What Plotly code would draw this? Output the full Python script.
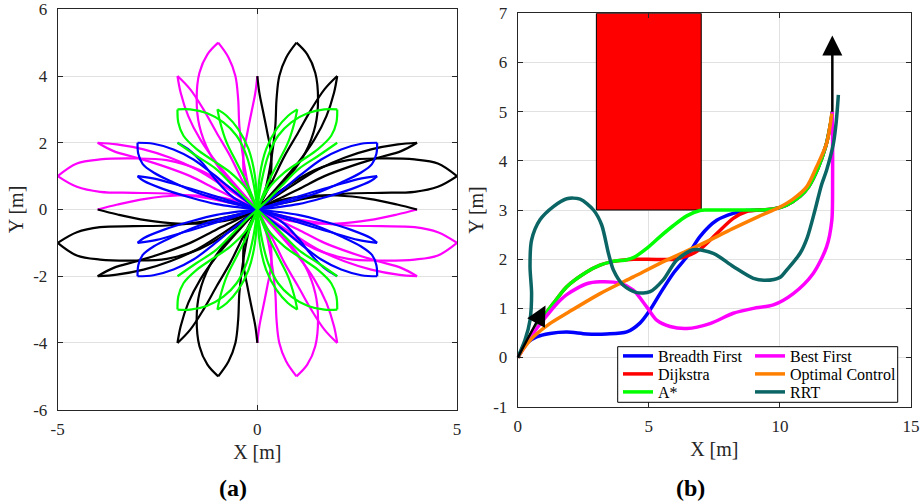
import plotly.graph_objects as go

# ---------------- Panel (a): petal curves, upper-left quadrant family ----------------
# magenta (upper-left) petals, each edge listed from the origin to its tip
M1_OUT = [(0, 0), (-0.4, 0.5), (-0.8, 1.0), (-1.2, 1.7), (-1.45, 2.5), (-1.52, 3.3), (-1.45, 4.1), (-1.25, 4.65), (-0.98, 5.0)]
M1_IN = [(0, 0), (-0.2, 0.6), (-0.35, 1.5), (-0.45, 2.5), (-0.48, 3.3), (-0.55, 4.0), (-0.72, 4.55), (-0.98, 5.0)]
M2_OUT = [(0, 0), (-0.52, 0.7), (-1.02, 1.4), (-1.43, 2.1), (-1.73, 2.8), (-1.92, 3.5), (-2.0, 4.0)]
M2_IN = [(0, 0), (-0.35, 0.8), (-0.68, 1.6), (-1.02, 2.3), (-1.35, 3.0), (-1.68, 3.6), (-2.0, 4.0)]
M3_UP = [(0, 0), (-0.35, 0.3), (-0.85, 0.7), (-1.52, 1.2), (-2.18, 1.55), (-2.85, 1.8), (-3.52, 1.95), (-4.0, 2.0)]
M3_LO = [(0, 0), (-0.5, 0.3), (-1.02, 0.6), (-1.68, 1.0), (-2.35, 1.3), (-3.02, 1.55), (-3.6, 1.75), (-4.0, 2.0)]
M4_UP = [(0, 0), (-0.6, 0.58), (-1.44, 1.18), (-2.27, 1.48), (-3.1, 1.53), (-3.94, 1.5), (-4.52, 1.38), (-5.0, 1.0)]
M4_LO = [(0, 0), (-0.6, 0.18), (-1.44, 0.38), (-2.27, 0.48), (-3.1, 0.5), (-3.94, 0.53), (-4.52, 0.68), (-5.0, 1.0)]
M5_HALF = [(0, 0), (-0.5, 0.25), (-1.2, 0.4), (-2.0, 0.42), (-2.8, 0.32), (-3.5, 0.15), (-4.0, 0.0)]
M6_HALF = [(0, 0), (-0.3, 0.8), (-0.35, 1.6), (-0.25, 2.3), (-0.15, 2.9), (-0.05, 3.5), (0.0, 4.0)]

# green (upper-left) petals
G1_TOP = [(0, 0), (-0.1, 0.81), (-0.27, 1.61), (-0.52, 2.21), (-0.85, 2.61), (-1.27, 2.89), (-1.68, 3.0), (-2.0, 3.0)]
G1_LO = [(0, 0), (-0.27, 0.61), (-0.68, 1.11), (-1.1, 1.46), (-1.52, 1.81), (-1.85, 2.21), (-1.98, 2.61), (-2.0, 3.0)]
G2_A = [(0, 0), (-0.27, 0.81), (-0.52, 1.41), (-0.77, 2.01), (-0.93, 2.61), (-1.0, 3.0)]
G2_B = [(0, 0), (-0.06, 1.01), (-0.22, 1.81), (-0.48, 2.41), (-0.77, 2.81), (-1.0, 3.0)]
G3_LINE = [(0, 0), (-0.28, 0.31), (-0.61, 0.71), (-1.03, 1.21), (-1.53, 1.61), (-2.0, 2.0)]

# blue (upper-left) petals
B1_TOP = [(0, 0), (-0.6, 0.56), (-1.1, 1.05), (-1.6, 1.5), (-2.1, 1.8), (-2.6, 1.97), (-3.0, 2.0)]
B1_LO = [(0, 0), (-0.85, 0.26), (-1.52, 0.51), (-2.1, 0.81), (-2.6, 1.11), (-2.87, 1.36), (-2.98, 1.66), (-3.0, 2.0)]
B2_TOP = [(0, 0), (-0.68, 0.26), (-1.35, 0.51), (-1.93, 0.71), (-2.52, 0.91), (-3.0, 1.0)]
B2_LO = [(0, 0), (-1.02, 0.16), (-1.68, 0.36), (-2.35, 0.61), (-2.85, 0.86), (-3.0, 1.0)]
B3_LINE = [(0, 0), (-0.6, 0.36), (-1.02, 0.86), (-1.35, 1.36), (-1.68, 1.76), (-2.0, 2.0)]

A_XTICKS = [-5, 0, 5]
A_XTICKTEXT = ["-5", "0", "5"]
A_YTICKS = [-6, -4, -2, 0, 2, 4, 6]
A_YTICKTEXT = ["-6", "-4", "-2", "0", "2", "4", "6"]

# ---------------- Panel (b): planned paths ----------------
OBST_X = [3, 7, 7, 3, 3]
OBST_Y = [3, 3, 7, 7, 3]

BF_X = [0, 0.34, 0.72, 1.23, 1.87, 2.63, 3.39, 4.16, 4.66, 5.05, 5.43, 5.93, 6.45, 6.95, 7.59, 8.22, 8.73, 9.24, 9.75, 10.25, 10.77, 11.1, 11.45, 11.75, 11.93, 12.0]
BF_Y = [0, 0.29, 0.42, 0.49, 0.52, 0.48, 0.48, 0.52, 0.70, 0.97, 1.30, 1.71, 2.05, 2.46, 2.79, 2.93, 2.99, 3.0, 3.02, 3.1, 3.28, 3.48, 3.85, 4.3, 4.75, 5.0]

DIJ_X = [0, 0.3, 0.6, 0.98, 1.36, 1.87, 2.63, 3.14, 3.6, 4.16, 4.4, 6.0, 6.4, 6.95, 7.59, 8.22, 8.73, 9.24, 9.75, 10.25, 10.77, 11.1, 11.45, 11.75, 11.93, 12.0]
DIJ_Y = [0, 0.28, 0.55, 0.83, 1.10, 1.44, 1.74, 1.88, 1.95, 1.99, 2.0, 2.0, 2.05, 2.2, 2.52, 2.83, 2.97, 3.0, 3.02, 3.1, 3.28, 3.48, 3.85, 4.3, 4.75, 5.0]

ASTAR_X = [0, 0.3, 0.6, 0.98, 1.36, 1.87, 2.63, 3.14, 3.6, 4.16, 4.41, 4.92, 5.43, 5.93, 6.45, 6.95, 7.2, 9.24, 9.75, 10.25, 10.77, 11.1, 11.45, 11.75, 11.93, 12.0]
ASTAR_Y = [0, 0.28, 0.55, 0.83, 1.10, 1.44, 1.74, 1.88, 1.95, 1.99, 2.03, 2.22, 2.46, 2.68, 2.88, 2.99, 3.0, 3.0, 3.02, 3.1, 3.28, 3.48, 3.85, 4.3, 4.75, 5.0]

BEST_X = [0, 0.3, 0.6, 1.0, 1.5, 1.87, 2.63, 3.14, 3.9, 4.41, 4.92, 5.3, 5.81, 6.45, 7.33, 8.22, 8.99, 9.75, 10.51, 11.27, 11.78, 11.98, 12.01, 12.01, 12.0]
BEST_Y = [0, 0.25, 0.5, 0.78, 1.1, 1.28, 1.5, 1.54, 1.51, 1.37, 1.03, 0.76, 0.63, 0.59, 0.69, 0.90, 1.0, 1.07, 1.30, 1.71, 2.25, 2.79, 3.6, 4.4, 5.0]

OC_X = [0, 0.25, 0.6, 1.2, 1.87, 3.14, 4.41, 5.68, 6.95, 8.2, 9.2, 10.0, 10.5, 11.02, 11.4, 11.78, 11.98]
OC_Y = [0, 0.2, 0.42, 0.68, 0.9, 1.3, 1.64, 1.98, 2.29, 2.62, 2.87, 3.06, 3.22, 3.47, 3.88, 4.35, 4.96]

RRT_X = [0, 0.28, 0.47, 0.53, 0.47, 0.53, 0.85, 1.36, 1.87, 2.38, 2.89, 3.2, 3.46, 3.65, 4.03, 4.54, 5.05, 5.55, 6.06, 6.70, 7.46, 8.22, 8.99, 9.45, 10.0, 10.26, 10.77, 11.05, 11.34, 11.58, 11.78, 12.04, 12.15, 12.23]
RRT_Y = [0, 0.36, 0.76, 1.30, 1.85, 2.39, 2.80, 3.07, 3.23, 3.22, 3.0, 2.7, 2.12, 1.78, 1.47, 1.32, 1.34, 1.58, 1.98, 2.19, 2.12, 1.85, 1.61, 1.57, 1.63, 1.78, 2.12, 2.45, 3.0, 3.5, 3.81, 4.35, 4.8, 5.34]

ARROW_TAIL_X = [0, 12]
ARROW_TAIL_Y = [0, 5]
ARROW_HEAD_X = [1.06, 12]
ARROW_HEAD_Y = [1.06, 6.55]

B_XTICKS = [0, 5, 10, 15]
B_XTICKTEXT = ["0", "5", "10", "15"]
B_YTICKS = [-1, 0, 1, 2, 3, 4, 5, 6, 7]
B_YTICKTEXT = ["-1", "0", "1", "2", "3", "4", "5", "6", "7"]

FONT = "Liberation Serif"
AXC = "#262626"
GRIDC = "#e1e1e1"


def mirror_x(c):
    return [(-x, y) for x, y in c]


def mirror_y(c):
    return [(x, -y) for x, y in c]


def rotate(c):
    return [(-x, -y) for x, y in c]


def join(curves):
    xs, ys = [], []
    for c in curves:
        for x, y in c:
            xs.append(x)
            ys.append(y)
        xs.append(None)
        ys.append(None)
    return xs, ys


MAG_UL = [M1_OUT, M1_IN, M2_OUT, M2_IN, M3_UP, M3_LO, M4_UP, M4_LO, M5_HALF, M6_HALF]
GRN_UL = [G1_TOP, G1_LO, G2_A, G2_B, G3_LINE]
BLU_UL = [B1_TOP, B1_LO, B2_TOP, B2_LO, B3_LINE]

magenta_curves = MAG_UL + [rotate(c) for c in MAG_UL]
black_curves = [mirror_x(c) for c in MAG_UL] + [mirror_y(c) for c in MAG_UL]
green_curves = GRN_UL + [mirror_x(c) for c in GRN_UL] + [rotate(c) for c in GRN_UL] + [mirror_y(c) for c in GRN_UL]
blue_curves = BLU_UL + [rotate(c) for c in BLU_UL] + [mirror_x(c) for c in BLU_UL[:4]] + [mirror_y(c) for c in BLU_UL[:4]]

W, H = 923, 504

fig = go.Figure()

for curves, col in [(magenta_curves, "#ff00ff"), (black_curves, "#000000"),
                    (blue_curves, "#0000ff"), (green_curves, "#00ff00")]:
    xs, ys = join(curves)
    fig.add_trace(go.Scatter(x=xs, y=ys, mode="lines", line=dict(color=col, width=2.2, shape="spline", smoothing=1.0),
                             showlegend=False, xaxis="x", yaxis="y", hoverinfo="skip"))

# obstacle
fig.add_trace(go.Scatter(x=OBST_X, y=OBST_Y, mode="lines", fill="toself", fillcolor="#ff0000",
                         line=dict(color="#000000", width=1), showlegend=False, xaxis="x2", yaxis="y2"))

# legend cells: (column left px, row centre px)
LEG_POS = [(618, 356), (618, 374), (618, 392), (750, 356), (750, 374), (750, 392)]
paths = [
    ("Breadth First", BF_X, BF_Y, "#0000ff"),
    ("Dijkstra", DIJ_X, DIJ_Y, "#ff0000"),
    ("A*", ASTAR_X, ASTAR_Y, "#00ff00"),
    ("Best First", BEST_X, BEST_Y, "#ff00ff"),
    ("Optimal Control", OC_X, OC_Y, "#ff8000"),
    ("RRT", RRT_X, RRT_Y, "#0b6565"),
]
legend_layouts = {}
for i, (name, xs, ys, col) in enumerate(paths):
    lg = "legend" if i == 0 else "legend%d" % (i + 1)
    fig.add_trace(go.Scatter(x=xs, y=ys, mode="lines", name=name,
                             line=dict(color=col, width=3.5, shape="spline", smoothing=0.8),
                             xaxis="x2", yaxis="y2", legend=lg))
    lx, ly = LEG_POS[i]
    legend_layouts[lg] = dict(x=lx / W, y=1 - ly / H, xanchor="left", yanchor="middle",
                              bgcolor="rgba(0,0,0,0)", borderwidth=0,
                              font=dict(family=FONT, size=16, color="#000000"), itemwidth=30)

for tx, ty, hx, hy in zip(ARROW_TAIL_X, ARROW_TAIL_Y, ARROW_HEAD_X, ARROW_HEAD_Y):
    fig.add_annotation(x=hx, y=hy, ax=tx, ay=ty, xref="x2", yref="y2", axref="x2", ayref="y2",
                       showarrow=True, arrowhead=2, arrowsize=1.6, arrowwidth=2.5, arrowcolor="#000000",
                       text="", font=dict(size=1), borderpad=0, borderwidth=0, standoff=0)

axis_common = dict(showline=True, linecolor=AXC, linewidth=1, mirror="ticks", ticks="inside", ticklen=5,
                   tickcolor=AXC, showgrid=True, gridcolor=GRIDC, gridwidth=1, zeroline=False,
                   automargin=False,
                   tickfont=dict(family=FONT, size=17, color=AXC),
                   title_font=dict(family=FONT, size=20, color=AXC))

fig.update_layout(
    width=W, height=H, margin=dict(l=0, r=0, t=0, b=0, autoexpand=False),
    paper_bgcolor="white", plot_bgcolor="white",
    xaxis=dict(domain=[57.7 / W, 457 / W], range=[-5, 5], tickvals=A_XTICKS, ticktext=A_XTICKTEXT,
               title=dict(text="X [m]", standoff=6), anchor="y", ticklabelstandoff=4, **axis_common),
    yaxis=dict(domain=[(H - 409.7) / H, (H - 9.3) / H], range=[-6, 6], tickvals=A_YTICKS, ticktext=A_YTICKTEXT,
               title=dict(text="Y [m]", standoff=4), anchor="x", ticklabelstandoff=6, **axis_common),
    xaxis2=dict(domain=[517.7 / W, 911 / W], range=[0, 15], tickvals=B_XTICKS, ticktext=B_XTICKTEXT,
                title=dict(text="X [m]", standoff=6), anchor="y2", ticklabelstandoff=4, **axis_common),
    yaxis2=dict(domain=[(H - 406.7) / H, (H - 13.3) / H], range=[-1, 7], tickvals=B_YTICKS, ticktext=B_YTICKTEXT,
                title=dict(text="Y [m]", standoff=4), anchor="x2", ticklabelstandoff=6, **axis_common),
    shapes=[dict(type="rect", xref="paper", yref="paper", x0=617.7 / W, x1=897.7 / W,
                 y0=1 - 402.3 / H, y1=1 - 346.7 / H, line=dict(color="#000000", width=1),
                 fillcolor="white", layer="above")],
    annotations=list(fig.layout.annotations) + [
        dict(text="<b>(a)</b>", x=233 / W, y=1 - 488 / H, xref="paper", yref="paper", showarrow=False,
             font=dict(family=FONT, size=24, color="#000000"), xanchor="center", yanchor="middle"),
        dict(text="<b>(b)</b>", x=690 / W, y=1 - 488 / H, xref="paper", yref="paper", showarrow=False,
             font=dict(family=FONT, size=24, color="#000000"), xanchor="center", yanchor="middle"),
    ],
    **legend_layouts,
)

fig.write_html("out.html", config={"displayModeBar": False},
               post_script="document.body.style.margin='0px';")
